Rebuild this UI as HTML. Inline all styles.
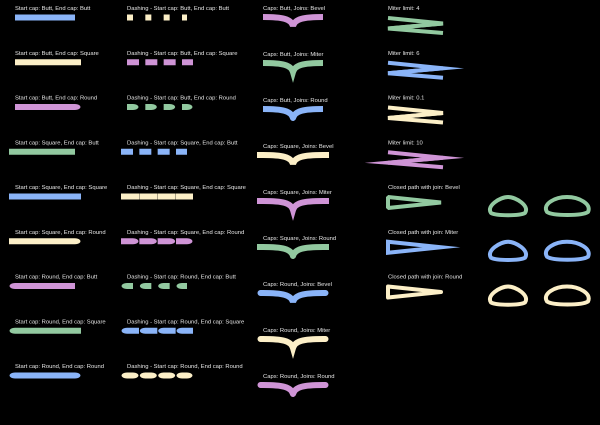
<!DOCTYPE html>
<html><head><meta charset="utf-8">
<style>
html,body{margin:0;padding:0;background:#000;}
svg{display:block;}
text{font-family:"Liberation Sans",sans-serif;font-size:5.85px;fill:#e6e6e6;}
</style></head>
<body>
<svg id="c" width="600" height="425" viewBox="0 0 600 425" xmlns="http://www.w3.org/2000/svg">
<rect width="600" height="425" fill="#000"/>
</svg>
<script>
const NS='http://www.w3.org/2000/svg';
const svg=document.getElementById('c');
const BLUE='#8ab4f8',YEL='#fcefc7',PINK='#cf94d6',GRN='#92c9a0';
const COLORS=[BLUE,YEL,PINK,GRN];
const capNames=['Butt','Square','Round'];
const capPairs=[[0,0],[0,1],[0,2],[1,0],[1,1],[1,2],[2,0],[2,1],[2,2]];
const joinNames=['Bevel','Miter','Round'];
const miterLimits=['4','6','0.1','10'];
const miterJoinFlags=[[false,false],[true,false],[false,false],[true,true]];
const closedJoins=['Bevel','Miter','Round'];

function el(tag,attrs,parent){const e=document.createElementNS(NS,tag);for(const k in attrs)e.setAttribute(k,attrs[k]);(parent||svg).appendChild(e);return e;}
function label(x,y,t){const e=el('text',{x:x,y:y});e.textContent=t;

return e;}
function seg(g,x0,x1,y,sc,ec,col){
  const h=3;let d='';
  let L=x0,R=x1;
  if(sc===1)L=x0-6;
  if(ec===1)R=x1+6;
  d+=`M${L},${y-h}L${R},${y-h}L${R},${y+h}L${L},${y+h}Z`;
  if(sc===2)d+=`M${x0},${y-h}A5.5,3 0 0 0 ${x0},${y+h}Z`;
  if(ec===2)d+=`M${x1},${y-h}A5.5,3 0 0 1 ${x1},${y+h}Z`;
  el('path',{d:d,fill:col},g);
}
const SP=44.75;
capPairs.forEach((p,i)=>{
  const ly=10+SP*i, y=17.5+SP*i;
  label(15,ly,`Start cap: ${capNames[p[0]]}, End cap: ${capNames[p[1]]}`);
  const g1=el('g',{});
  
  
  seg(g1,15,75,y,p[0],p[1],COLORS[i%4]);
  label(127,ly,`Dashing - Start cap: ${capNames[p[0]]}, End cap: ${capNames[p[1]]}`);
  const g2=el('g',{});
  
  
  for(let x=127;x<187;x+=18.33){seg(g2,x,Math.min(x+6,187),y,p[0],p[1],COLORS[(i+1)%4]);}
});
const SP3=46;
for(let i=0;i<9;i++){
  const ci=Math.floor(i/3), ji=i%3;
  const y=17+SP3*i;
  label(263,10+SP3*i,`Caps: ${capNames[ci]}, Joins: ${joinNames[ji]}`);
  const ext=ci===0?0:(ci===1?3:2.5);
  const d=`M${263-ext},${y}L263,${y}C283,${y} 291,${y+2} 293,${y+9}C295,${y+2} 303,${y} 323,${y}L${323+ext},${y}`;
  const p=el('path',{d:d,fill:'none',stroke:COLORS[(i+2)%4],'stroke-width':6,'stroke-linecap':['butt','square','round'][ci],'stroke-linejoin':['bevel','miter','round'][ji],'stroke-miterlimit':10});
  
  
}
miterLimits.forEach((m,i)=>{
  const o=SP*i;
  label(388,10+o,'Miter limit: '+m);
  const c=COLORS[(i+3)%4];
  const pts=[[388,18+o],[443,23.5+o],[388,28.5+o],[443,33+o]];
  const f=miterJoinFlags[i];
  const a=el('path',{d:`M${pts[0]}L${pts[1]}L${pts[2]}`,fill:'none',stroke:c,'stroke-width':4,'stroke-linejoin':f[0]?'miter':'bevel','stroke-miterlimit':100});
  
  
  const b=el('path',{d:`M${pts[1]}L${pts[2]}L${pts[3]}`,fill:'none',stroke:c,'stroke-width':4,'stroke-linejoin':f[1]?'miter':'bevel','stroke-miterlimit':100});
  
  
});
closedJoins.forEach((j,i)=>{
  const o=SP*(i+4);
  label(388,10+o,'Closed path with join: '+j);
  const c=COLORS[(i+3)%4];
  const lj=j.toLowerCase();
  const t=el('path',{d:`M388,${18+o}L441,${23.5+o}L388,${29+o}Z`,fill:'none',stroke:c,'stroke-width':4,'stroke-linejoin':lj,'stroke-miterlimit':10});
  
  
  const yb=o-179;
  const b1=el('path',{d:`M491,${213+yb}C486,${206+yb} 500,${197+yb} 508,${197+yb}C516,${197+yb} 530,${206+yb} 525,${213+yb}C519,${216+yb} 497,${216+yb} 491,${213+yb}Z`,fill:'none',stroke:c,'stroke-width':4,'stroke-linejoin':lj});
  
  
  const b2=el('path',{d:`M547,${212+yb}C542,${204+yb} 555,${197+yb} 567,${197+yb}C579,${197+yb} 592,${204+yb} 588,${212+yb}C582,${216+yb} 553,${216+yb} 547,${212+yb}Z`,fill:'none',stroke:c,'stroke-width':4,'stroke-linejoin':lj});
  
  
});
</script>
</body></html>
